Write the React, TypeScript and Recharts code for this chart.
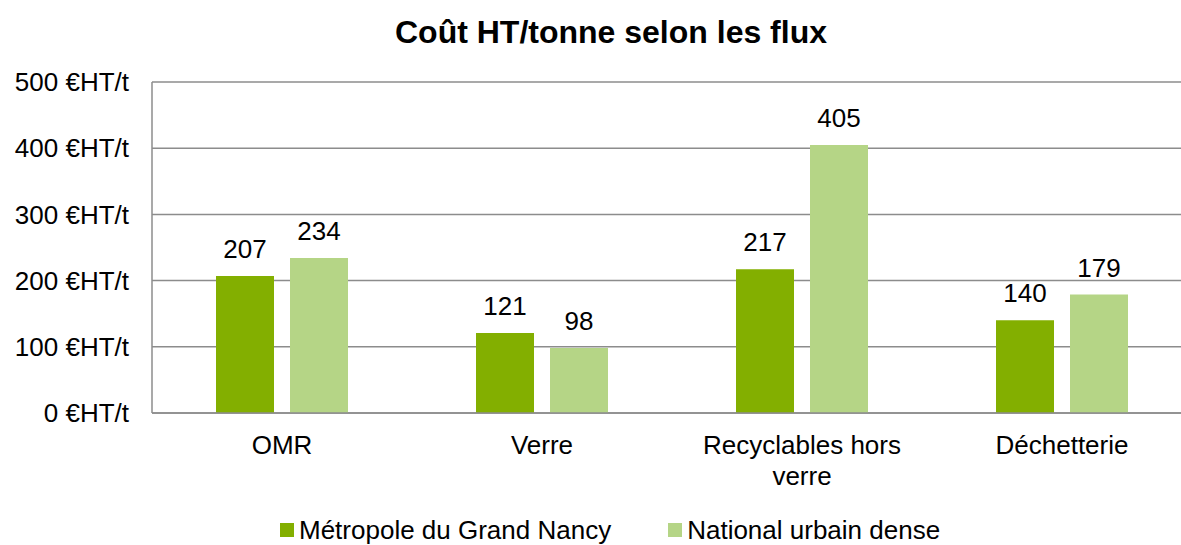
import React from "react";
import { BarChart, Bar, XAxis, YAxis, CartesianGrid, LabelList } from "recharts";

const categories = ["OMR", "Verre", "Recyclables hors verre", "Déchetterie"];
const metropoleValues = [207, 121, 217, 140];
const nationalValues = [234, 98, 405, 179];
const yTicks = [0, 100, 200, 300, 400, 500];
const seriesNames = ["Métropole du Grand Nancy", "National urbain dense"];
const seriesColors = ["#83AF00", "#B5D586"];
const title = "Coût HT/tonne selon les flux";

const FONT = '"Liberation Sans", Arial, sans-serif';

const data = categories.map((name, i) => ({
    name,
    metropole: metropoleValues[i],
    national: nationalValues[i],
}));

// greedy wrap on word boundaries, like Excel does for long category names
function wrapLabel(label: string, maxChars: number) {
    const lines: string[] = [];
    let cur = "";
    for (const w of label.split(" ")) {
        const next = cur ? cur + " " + w : w;
        if (next.length > maxChars && cur) {
            lines.push(cur);
            cur = w;
        } else {
            cur = next;
        }
    }
    if (cur) lines.push(cur);
    return lines;
}

const CategoryTick = (props: any) => {
    const { x, y, payload } = props;
    const lines = wrapLabel(String(payload.value), 16);
    return (
        <text x={x} y={y} textAnchor="middle" fill="#000" style={{ fontSize: 26, fontFamily: FONT }}>
            {lines.map((l, i) => (
                <tspan key={i} x={x} dy={i === 0 ? "0.71em" : 31}>
                    {l}
                </tspan>
            ))}
        </text>
    );
};

export default function App() {
    return (
        <div style={{ position: "absolute", left: 0, top: 0, width: 1181, height: 545, overflow: "hidden", background: "#fff", fontFamily: FONT }}>
            <div style={{ position: "absolute", left: 0, top: 14, width: 1222, textAlign: "center", fontSize: 32, lineHeight: "36px", fontWeight: "bold", color: "#000" }}>
                {title}
            </div>
            <BarChart
                width={1192}
                height={545}
                data={data}
                margin={{ top: 82, right: 0, left: 0, bottom: 0 }}
                barSize={58}
                barGap={16}
            >
                <CartesianGrid vertical={false} stroke="#8c8c8c" strokeWidth={1.5} />
                <XAxis
                    dataKey="name"
                    height={132}
                    tickLine={false}
                    tickSize={0}
                    tickMargin={23}
                    axisLine={{ stroke: "#8c8c8c", strokeWidth: 1.5 }}
                    tick={<CategoryTick />}
                    interval={0}
                />
                <YAxis
                    width={152}
                    domain={[0, 500]}
                    ticks={yTicks}
                    tickFormatter={(v) => `${v} €HT/t`}
                    tickLine={false}
                    tickSize={0}
                    tickMargin={23}
                    axisLine={{ stroke: "#8c8c8c", strokeWidth: 1.5 }}
                    tick={{ fontSize: 26, fontFamily: FONT, fill: "#000" }}
                />
                <Bar dataKey="metropole" name={seriesNames[0]} fill={seriesColors[0]} isAnimationActive={false}>
                    <LabelList dataKey="metropole" position="top" offset={18} style={{ fontSize: 26, fontFamily: FONT, fill: "#000" }} />
                </Bar>
                <Bar dataKey="national" name={seriesNames[1]} fill={seriesColors[1]} isAnimationActive={false}>
                    <LabelList dataKey="national" position="top" offset={18} style={{ fontSize: 26, fontFamily: FONT, fill: "#000" }} />
                </Bar>
            </BarChart>
            <div style={{ position: "absolute", left: 280, top: 515, display: "flex", alignItems: "center", fontSize: 26, lineHeight: "30px", color: "#000", whiteSpace: "nowrap" }}>
                {seriesNames.map((s, i) => (
                    <div key={s} style={{ display: "flex", alignItems: "center", marginRight: i === 0 ? 57 : 0 }}>
                        <span style={{ display: "inline-block", width: 14, height: 14, background: seriesColors[i], marginRight: 5 }} />
                        <span>{s}</span>
                    </div>
                ))}
            </div>
        </div>
    );
}
